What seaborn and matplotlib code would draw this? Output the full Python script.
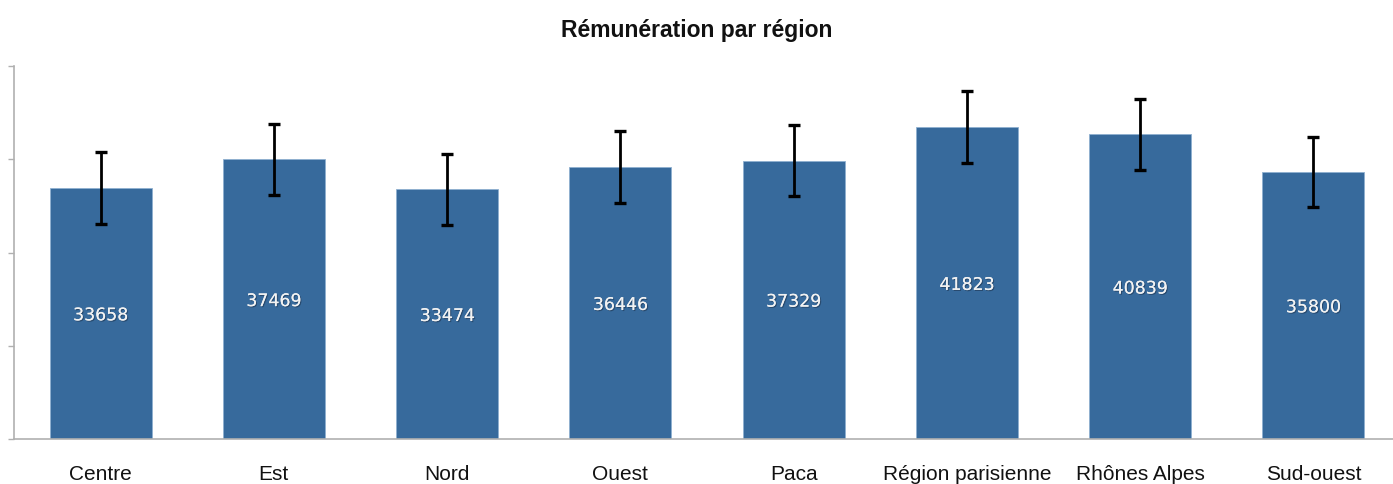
import matplotlib
matplotlib.use("Agg")
import matplotlib.pyplot as plt
import matplotlib.patheffects as pe
import numpy as np
import pandas as pd
import seaborn as sbn

# values
regions = ["Centre", "Est", "Nord", "Ouest", "Paca",
           "Région parisienne", "Rhônes Alpes", "Sud-ouest"]
salaries = [33658, 37469, 33474, 36446, 37329, 41823, 40839, 35800]
errors = [4850, 4800, 4780, 4850, 4800, 4780, 4750, 4730]
y_ticks = [0, 12500, 25000, 37500, 50000]

BAR_COLOR = "#376a9c"
AXIS_COLOR = "#b0b0b0"

def main():
    sbn.set_style("white")
    plt.rcParams["font.family"] = ["Liberation Sans", "DejaVu Sans"]

    df = pd.DataFrame({"region": regions, "salaire": salaries})

    fig = plt.figure(figsize=(13.93, 4.85), dpi=100)
    ax = fig.add_axes([14 / 1393, 1 - 440 / 485, (1400 - 14) / 1393, (440 - 67) / 485])

    sbn.barplot(data=df, x="region", y="salaire", color=BAR_COLOR,
                saturation=1, width=0.59, errorbar=None, ax=ax,
                edgecolor="#8fb0d0", linewidth=0.6)

    x = np.arange(len(regions))
    ax.errorbar(x, salaries, yerr=errors, fmt="none", ecolor="black",
                elinewidth=2, capsize=4.5, capthick=2.4, zorder=5)

    for xi, v in zip(x, salaries):
        ax.text(xi, v / 2 - 250, str(v), ha="center", va="center", fontsize=12.5,
                color="#f2f2f2", family="DejaVu Sans",
                path_effects=[pe.withSimplePatchShadow(offset=(0.8, -0.8), shadow_rgbFace="#1e3550", alpha=0.6),
                              pe.Normal()])

    ax.set_xlim(-0.5, len(regions) - 0.5)
    ax.set_ylim(0, 50000)
    ax.set_yticks(y_ticks)
    ax.set_yticklabels([])
    ax.set_xticks(x)
    ax.set_xticklabels(regions, fontsize=15, color="#111111")
    ax.set_xticks(np.arange(len(regions) + 1) - 0.5, minor=True)
    ax.tick_params(axis="x", which="major", length=0, pad=18)
    ax.tick_params(axis="x", which="minor", length=4, width=1, color=AXIS_COLOR)
    ax.tick_params(axis="y", length=4, width=1, color=AXIS_COLOR, direction="out", left=True)
    ax.set_xlabel("")
    ax.set_ylabel("")

    for side in ["top", "right"]:
        ax.spines[side].set_visible(False)
    for side in ["left", "bottom"]:
        ax.spines[side].set_color(AXIS_COLOR)
        ax.spines[side].set_linewidth(1.2)

    fig.text(0.5, 1 - 31 / 485, "Rémunération par région", ha="center", va="center",
             fontsize=16.5, fontweight="bold", color="#111111")

    fig.savefig("out.png", dpi=100, facecolor="white")

if __name__ == "__main__":
    main()
